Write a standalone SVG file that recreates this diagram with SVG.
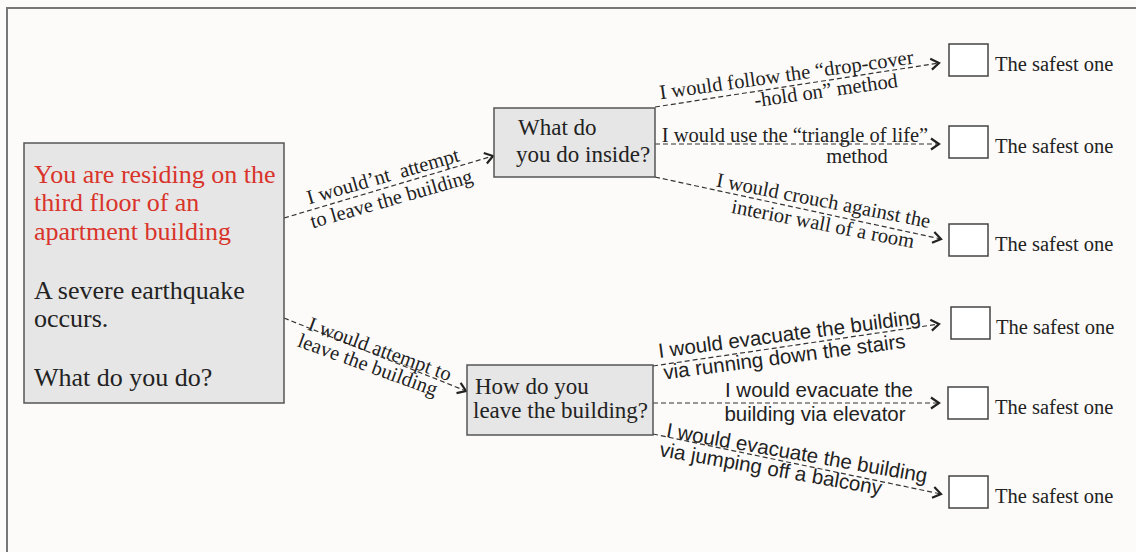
<svg xmlns="http://www.w3.org/2000/svg" width="1136" height="552" viewBox="0 0 1136 552">
<style>
.bg{fill:#fcfbf9}
.frame{fill:none;stroke:#777;stroke-width:2}
.box{fill:#e6e6e6;stroke:#555;stroke-width:1.5}
.sbox{fill:#fff;stroke:#444;stroke-width:1.5}
.conn{fill:none;stroke:#333;stroke-width:1.2;stroke-dasharray:5 3;marker-end:url(#arr)}
.serif{font-family:"Liberation Serif","Times New Roman",serif;fill:#222}
.sans{font-family:"Liberation Sans",Arial,sans-serif;fill:#222}
.main{font-size:26px}
.red{fill:#d9342b}
.q{font-size:23px}
.lbl{font-size:20.5px;text-anchor:middle}
.res{font-size:20.5px}
</style>
<defs>
<marker id="arr" markerUnits="userSpaceOnUse" markerWidth="14" markerHeight="14" refX="10" refY="7" orient="auto">
<path d="M2,1.5 L10,7 L2,12.5" fill="none" stroke="#222" stroke-width="2.2"/>
</marker>
</defs>
<rect class="bg" x="0" y="0" width="1136" height="552"/>
<path class="frame" d="M7,552 L7,8 L1136,8"/>

<g id="connectors">
<line class="conn" x1="284" y1="218" x2="493" y2="156"/>
<line class="conn" x1="284" y1="318" x2="466" y2="391"/>
<line class="conn" x1="655" y1="107" x2="939" y2="63"/>
<line class="conn" x1="655" y1="144" x2="939" y2="144"/>
<line class="conn" x1="655" y1="177" x2="941" y2="239"/>
<line class="conn" x1="653" y1="366" x2="939" y2="324"/>
<line class="conn" x1="653" y1="403" x2="939" y2="403"/>
<line class="conn" x1="653" y1="434" x2="941" y2="494"/>
</g>

<g id="labels">
<g transform="translate(388,187) rotate(-16)">
<text class="serif lbl" x="-2" y="-5" xml:space="preserve">I would’nt  attempt</text>
<text class="serif lbl" x="0" y="19">to leave the building</text>
</g>
<g transform="translate(372,353.3) rotate(20)">
<text class="serif lbl" x="6" y="0">I would attempt to</text>
<text class="serif lbl" x="0" y="19">leave the building</text>
</g>
<g transform="translate(787,86.5) rotate(-8)">
<text class="serif lbl" x="1" y="-5">I would follow the “drop-cover</text>
<text class="serif lbl" x="38" y="16">-hold on” method</text>
</g>
<text class="serif lbl" x="795" y="142">I would use the “triangle of life”</text>
<text class="serif lbl" x="857" y="163">method</text>
<g transform="translate(822,213.2) rotate(11)">
<text class="serif lbl" x="-1" y="-6">I would crouch against the</text>
<text class="serif lbl" x="3" y="17">interior wall of a room</text>
</g>
<g transform="translate(790,345.8) rotate(-7.5)">
<text class="sans lbl" x="1" y="-5">I would evacuate the building</text>
<text class="sans lbl" x="-7" y="17">via running down the stairs</text>
</g>
<text class="sans lbl" x="819" y="397">I would evacuate the</text>
<text class="sans lbl" x="815" y="421">building via elevator</text>
<g transform="translate(797,464.1) rotate(10)">
<text class="sans lbl" x="-2" y="-4">I would evacuate the building</text>
<text class="sans lbl" x="-25" y="16">via jumping off a balcony</text>
</g>
</g>

<g id="start">
<rect class="box" x="24" y="143" width="260" height="260"/>
<text class="serif main red" x="34" y="183">You are residing on the</text>
<text class="serif main red" x="34" y="211">third floor of an</text>
<text class="serif main red" x="34" y="240">apartment building</text>
<text class="serif main" x="34" y="299">A severe earthquake</text>
<text class="serif main" x="34" y="327">occurs.</text>
<text class="serif main" x="34" y="386">What do you do?</text>
</g>

<g id="inside">
<rect class="box" x="494" y="108" width="161" height="69"/>
<text class="serif q" x="518" y="135">What do</text>
<text class="serif q" x="516" y="162">you do inside?</text>
</g>

<g id="leave">
<rect class="box" x="467" y="365" width="186" height="70"/>
<text class="serif q" x="475" y="394">How do you</text>
<text class="serif q" x="473" y="418">leave the building?</text>
</g>

<g id="opt1"><rect class="sbox" x="949" y="44" width="39" height="32"/><text class="serif res" x="995" y="71">The safest one</text></g>
<g id="opt2"><rect class="sbox" x="949" y="126" width="39" height="32"/><text class="serif res" x="995" y="153">The safest one</text></g>
<g id="opt3"><rect class="sbox" x="949" y="224" width="39" height="32"/><text class="serif res" x="995" y="251">The safest one</text></g>
<g id="opt4"><rect class="sbox" x="951" y="307" width="39" height="32"/><text class="serif res" x="996" y="334">The safest one</text></g>
<g id="opt5"><rect class="sbox" x="948" y="387" width="40" height="32"/><text class="serif res" x="995" y="414">The safest one</text></g>
<g id="opt6"><rect class="sbox" x="949" y="476" width="39" height="32"/><text class="serif res" x="995" y="503">The safest one</text></g>
</svg>
